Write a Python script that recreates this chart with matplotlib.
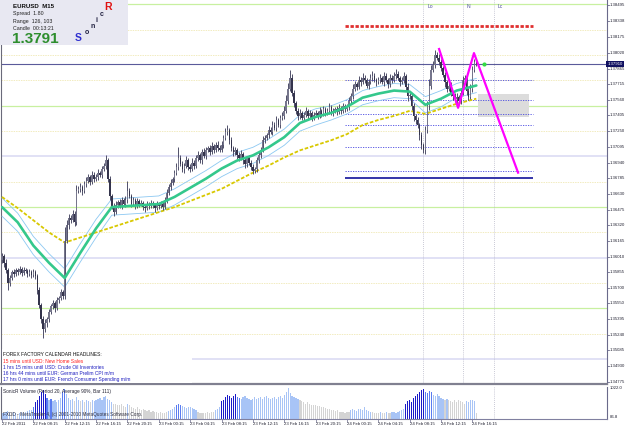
import matplotlib
matplotlib.use("Agg")
import matplotlib.pyplot as plt
from matplotlib.patches import Rectangle
from matplotlib.lines import Line2D

plt.rcParams['font.family'] = ['Liberation Sans', 'DejaVu Sans']

# ---------------- DATA ----------------
symbol = "EURUSD  M15"
first_open = 1.3598
closes = [
    1.3602, 1.3595, 1.3588, 1.3575, 1.3580, 1.3586, 1.3584, 1.3588, 1.3586, 1.3589, 1.3585, 1.3588, 1.3587, 1.3584, 1.3586, 1.3583,
    1.3586, 1.3582, 1.3568, 1.3553, 1.3540, 1.3530, 1.3536, 1.3540, 1.3546, 1.3552, 1.3555, 1.3550, 1.3558, 1.3560, 1.3566, 1.3562,
    1.3617, 1.3632, 1.3639, 1.3637, 1.3643, 1.3635, 1.3666, 1.3668, 1.3670, 1.3666, 1.3673, 1.3676, 1.3680, 1.3675, 1.3682, 1.3678,
    1.3680, 1.3684, 1.3682, 1.3688, 1.3691, 1.3696, 1.3678, 1.3661, 1.3651, 1.3645, 1.3652, 1.3655, 1.3651, 1.3657, 1.3653, 1.3657,
    1.3666, 1.3661, 1.3653, 1.3657, 1.3651, 1.3656, 1.3653, 1.3654, 1.3650, 1.3649, 1.3653, 1.3651, 1.3654, 1.3652, 1.3649, 1.3653,
    1.3651, 1.3653, 1.3650, 1.3657, 1.3664, 1.3670, 1.3674, 1.3678, 1.3684, 1.3690, 1.3698, 1.3693, 1.3688, 1.3691, 1.3696, 1.3690,
    1.3688, 1.3694, 1.3691, 1.3698, 1.3701, 1.3696, 1.3704, 1.3700, 1.3706, 1.3708, 1.3704, 1.3710, 1.3706, 1.3711, 1.3708, 1.3706,
    1.3711, 1.3718, 1.3724, 1.3726, 1.3716, 1.3708, 1.3704, 1.3706, 1.3701, 1.3698, 1.3702, 1.3696, 1.3693, 1.3698, 1.3694, 1.3690,
    1.3686, 1.3688, 1.3696, 1.3701, 1.3706, 1.3716, 1.3718, 1.3721, 1.3726, 1.3724, 1.3731, 1.3728, 1.3736, 1.3731, 1.3738, 1.3740,
    1.3745, 1.3755, 1.3767, 1.3777, 1.3763, 1.3753, 1.3745, 1.3740, 1.3743, 1.3738, 1.3741, 1.3745, 1.3740, 1.3743, 1.3738, 1.3741,
    1.3743, 1.3740, 1.3745, 1.3742, 1.3747, 1.3743, 1.3745, 1.3749, 1.3743, 1.3745, 1.3747, 1.3744, 1.3748, 1.3745, 1.3750, 1.3747,
    1.3749, 1.3755, 1.3760, 1.3767, 1.3771, 1.3769, 1.3775, 1.3773, 1.3777, 1.3775, 1.3770, 1.3773, 1.3777, 1.3779, 1.3775, 1.3773,
    1.3775, 1.3777, 1.3773, 1.3779, 1.3775, 1.3771, 1.3777, 1.3775, 1.3779, 1.3781, 1.3777, 1.3773, 1.3775, 1.3779, 1.3769, 1.3760,
    1.3760, 1.3750, 1.3740, 1.3736, 1.3731, 1.3721, 1.3711, 1.3706, 1.3726, 1.3750, 1.3770, 1.3785, 1.3790, 1.3800, 1.3797, 1.3793,
    1.3787, 1.3780, 1.3773, 1.3767, 1.3770, 1.3763, 1.3760, 1.3757, 1.3759, 1.3755, 1.3763, 1.3775, 1.3777, 1.3765, 1.3759, 1.3767,
    1.3785, 1.3793, 1.3791,
]
# wick lengths in pips above max(open, close) and below min(open, close)
upper_wick = [
    3, 2, 4, 2, 3, 2, 3, 2, 2, 3, 2, 3, 2, 2, 3, 2,
    3, 2, 2, 3, 2, 3, 4, 2, 3, 2, 3, 2, 3, 2, 3, 2,
    13, 5, 4, 3, 4, 3, 6, 3, 4, 2, 3, 4, 3, 2, 4, 3,
    3, 4, 2, 3, 3, 5, 2, 3, 2, 3, 4, 2, 3, 3, 2, 4,
    10, 3, 2, 3, 2, 3, 2, 3, 2, 2, 3, 2, 3, 2, 2, 3,
    2, 3, 2, 3, 4, 3, 4, 2, 3, 4, 11, 3, 2, 3, 4, 2,
    3, 4, 2, 3, 4, 2, 3, 4, 3, 2, 3, 4, 2, 3, 4, 3,
    4, 3, 4, 5, 2, 3, 2, 3, 2, 3, 4, 2, 3, 2, 3, 2,
    3, 2, 3, 4, 3, 4, 3, 2, 4, 3, 4, 3, 4, 2, 3, 4,
    5, 6, 5, 8, 4, 3, 2, 3, 4, 2, 3, 4, 2, 3, 2, 3,
    3, 2, 4, 2, 3, 2, 3, 4, 2, 3, 2, 3, 4, 2, 3, 2,
    3, 4, 3, 4, 3, 2, 4, 3, 5, 3, 2, 3, 4, 5, 3, 2,
    3, 4, 2, 4, 3, 2, 4, 3, 4, 5, 3, 2, 3, 4, 2, 3,
    3, 2, 3, 2, 3, 2, 3, 2, 4, 5, 6, 5, 4, 5, 3, 4,
    3, 2, 3, 2, 4, 3, 2, 3, 4, 2, 5, 4, 3, 2, 3, 4,
    4, 3, 2,
]
lower_wick = [
    3, 4, 3, 7, 3, 2, 3, 2, 3, 2, 3, 2, 2, 3, 2, 3,
    2, 3, 4, 3, 4, 9, 3, 4, 3, 2, 3, 4, 2, 3, 2, 3,
    3, 2, 4, 3, 2, 4, 3, 2, 3, 4, 2, 3, 2, 3, 2, 3,
    2, 3, 2, 3, 2, 3, 3, 4, 3, 4, 2, 3, 2, 3, 2, 3,
    3, 2, 3, 2, 3, 2, 3, 2, 3, 4, 2, 3, 2, 3, 4, 2,
    3, 2, 3, 2, 3, 2, 3, 2, 3, 2, 3, 2, 3, 4, 2, 3,
    3, 2, 3, 2, 3, 2, 3, 2, 3, 2, 3, 2, 3, 2, 3, 2,
    2, 3, 2, 3, 4, 3, 4, 3, 4, 3, 2, 3, 4, 3, 2, 3,
    3, 2, 3, 2, 3, 2, 3, 2, 3, 2, 3, 2, 3, 2, 3, 2,
    3, 2, 3, 2, 3, 4, 3, 4, 3, 2, 3, 2, 3, 2, 3, 2,
    2, 3, 2, 3, 2, 3, 2, 3, 2, 3, 2, 3, 2, 3, 2, 3,
    2, 3, 2, 3, 2, 3, 2, 3, 2, 3, 2, 3, 2, 3, 2, 3,
    2, 3, 2, 3, 2, 3, 2, 3, 2, 3, 2, 3, 2, 3, 4, 5,
    3, 4, 5, 4, 3, 5, 4, 3, 4, 3, 4, 3, 2, 3, 2, 3,
    3, 2, 4, 3, 2, 3, 4, 3, 5, 4, 3, 2, 3, 4, 3, 2,
    3, 2, 2,
]
volumes = [
    200, 230, 260, 280, 220, 200, 240, 210, 190, 220, 250, 230, 260, 280, 300, 320,
    420, 560, 650, 780, 900, 950, 820, 700, 620, 660, 600, 640, 580, 620, 700, 880,
    1000, 820, 700, 640, 680, 600, 720, 650, 600, 640, 580, 620, 600, 560, 640, 600,
    620, 680, 700, 650, 720, 760, 680, 640, 560, 500, 520, 480, 460, 500, 440, 420,
    520, 480, 420, 380, 360, 400, 340, 320, 360, 300, 280, 300, 260, 280, 250, 240,
    220, 250, 230, 210, 260, 280, 300, 360, 420, 460, 520, 480, 440, 400, 380, 420,
    400, 380, 350, 300, 260, 230, 210, 200, 220, 240, 230, 250, 260, 300, 350, 420,
    600, 640, 720, 800, 760, 700, 780, 820, 740, 700, 680, 720, 760, 700, 660, 640,
    680, 720, 660, 700, 740, 680, 720, 780, 700, 660, 700, 740, 680, 720, 760, 700,
    800, 900, 1022, 860, 780, 740, 700, 680, 640, 600, 560, 520, 560, 500, 480, 460,
    480, 450, 430, 420, 400, 380, 360, 340, 320, 300, 280, 300, 260, 250, 240, 230,
    240, 260, 300, 350, 320, 280, 360, 330, 300, 420, 300, 280, 260, 240, 230, 220,
    220, 240, 230, 210, 250, 230, 220, 260, 240, 230, 250, 280, 300, 360, 500, 600,
    640, 580, 700, 760, 820, 900, 960, 1000, 900, 860, 920, 880, 800, 780, 820, 760,
    700, 660, 620, 680, 640, 600, 560, 620, 580, 640, 600, 560, 520, 600, 580, 620,
    640, 600, 200,
]
# moving averages read at sample bars
ma_bars = [0, 8, 16, 24, 32, 40, 48, 56, 64, 72, 80, 88, 96, 104, 112, 120, 128, 136,
           144, 152, 160, 168, 176, 184, 192, 200, 208, 216, 224, 232, 240, 242]
dragon_mid = [1.3650, 1.3635, 1.3612, 1.3595, 1.3580, 1.3605, 1.3629, 1.3650, 1.3651, 1.3652,
              1.3653, 1.3660, 1.3669, 1.3678, 1.3688, 1.3696, 1.3701, 1.3709, 1.3719, 1.3733,
              1.3739, 1.3743, 1.3749, 1.3758, 1.3762, 1.3765, 1.3764, 1.3751, 1.3757, 1.3765,
              1.3769, 1.3770]
dragon_band = [9, 9, 9, 9, 9, 9, 9, 8, 8, 8, 8, 8, 8, 8, 8, 8, 8, 8, 8, 8, 8, 7, 7, 7, 7, 7,
               7, 8, 8, 7, 7, 7]  # pips
trend_ma = [1.3660, 1.3649, 1.3637, 1.3625, 1.3615, 1.3620, 1.3625, 1.3630, 1.3635, 1.3640,
            1.3645, 1.3650, 1.3656, 1.3662, 1.3668, 1.3676, 1.3684, 1.3691, 1.3699, 1.3706,
            1.3711, 1.3716, 1.3722, 1.3731, 1.3736, 1.3740, 1.3745, 1.3742, 1.3747, 1.3752,
            1.3756, 1.3757]

price_ticks = [1.38495, 1.38338, 1.38175, 1.38020, 1.37865, 1.37715, 1.37560, 1.37405,
               1.37250, 1.37095, 1.36940, 1.36785, 1.36630, 1.36475, 1.36320, 1.36165,
               1.36010, 1.35855, 1.35700, 1.35550, 1.35395, 1.35240, 1.35085, 1.34930,
               1.34775]
time_tick_bars = [0, 16, 32, 48, 64, 80, 96, 112, 128, 144, 160, 176, 192, 208, 224, 240]
time_labels = ["22 Feb 2011", "22 Feb 08:15", "22 Feb 12:15", "22 Feb 16:15", "22 Feb 20:15",
               "23 Feb 00:15", "23 Feb 04:15", "23 Feb 08:15", "23 Feb 12:15", "23 Feb 16:15",
               "23 Feb 20:15", "24 Feb 00:15", "24 Feb 04:15", "24 Feb 08:15", "24 Feb 12:15",
               "24 Feb 16:15"]
bid = 1.3791
round_levels = [1.3850, 1.3825, 1.3800, 1.3775, 1.3750, 1.3725, 1.3700, 1.3675, 1.3650,
                1.3625, 1.3600, 1.3575, 1.3550, 1.3525, 1.3500]
level_start, level_end = 175, 271
red_level = 1.3829
blue_levels = [1.3775, 1.3756, 1.3742, 1.3731, 1.3709, 1.3686]
navy_level = 1.3679
zone_bars = (243, 269)
zone_prices = (1.3739, 1.3762)
pattern_bars = [223, 232.7, 240.8, 263.3]
pattern_prices = [1.3806, 1.3748, 1.3802, 1.3684]
session_bars = [215, 235, 251]
session_names = ["Lo", "N", "Lc"]
news = ["15 mins until USD: New Home Sales",
        "1 hrs 15 mins until USD: Crude Oil Inventories",
        "16 hrs 44 mins until EUR: German Prelim CPI m/m",
        "17 hrs 0 mins until EUR: French Consumer Spending m/m"]
vol_max, vol_min = 1022.0, 86.8

# ---------------- LAYOUT ----------------
W, H = 625, 429
fig = plt.figure(figsize=(W / 100, H / 100), dpi=100)
fig.patch.set_facecolor('white')

def fx(px):
    return px / W

def fy(py):
    return 1 - py / H

PX_PER_BAR = 1.96
ML, MR, MT, MB = 1, 607, 0, 384
ax = fig.add_axes([fx(ML), fy(MB), (MR - ML) / W, (MB - MT) / H])
VT, VB = 387, 419
vax = fig.add_axes([fx(ML), fy(VB), (MR - ML) / W, (VB - VT) / H])

x0 = (ML - 2) / PX_PER_BAR
x1 = (MR - 2) / PX_PER_BAR
P_PER_PX = 0.0000987
ax.set_xlim(x0, x1)
ax.set_ylim(1.38544 - MB * P_PER_PX, 1.38544)
vs = (vol_max - vol_min) / 29.0
vax.set_xlim(x0, x1)
vax.set_ylim(vol_min - 2 * vs, vol_max + 1 * vs)

for a in (ax, vax):
    a.set_xticks([])
    a.set_yticks([])
    a.set_facecolor('white')
    for s in a.spines.values():
        s.set_visible(False)
    a.spines['left'].set_visible(True)
    a.spines['left'].set_color('#6a6a7a')
    a.spines['left'].set_linewidth(0.8)
    a.spines['right'].set_visible(True)
    a.spines['right'].set_color('#6a6a8a')
    a.spines['right'].set_linewidth(0.8)
ax.spines['bottom'].set_visible(True)
ax.spines['bottom'].set_color('#808090')
ax.spines['bottom'].set_linewidth(1.6)
vax.spines['bottom'].set_visible(True)
vax.spines['bottom'].set_color('#8080a0')
vax.spines['bottom'].set_linewidth(0.8)

# round-number levels
for lv in round_levels:
    frac = round((lv * 10000) % 100)
    if frac == 50:
        ax.axhline(lv, color='#c8f0a0', lw=0.9, zorder=1)
    elif frac == 0:
        ax.axhline(lv, color='#d8d8f2', lw=1.1, zorder=1)
    else:
        ax.axhline(lv, color='#f2ecc0', lw=0.7, ls=(0, (1.5, 1)), zorder=1)

# session verticals
for b, nm in zip(session_bars, session_names):
    ax.axvline(b, color='#b8b8c8', lw=0.6, ls=(0, (1, 1.5)), zorder=1)
    ax.text(b + 2, 1.38544 - 6 * P_PER_PX, nm, fontsize=3.6, color='#5050a0',
            ha='left', va='center', zorder=5)
vax.axvline(session_bars[-1], color='#b8b8c8', lw=0.6, ls=(0, (1, 1.5)))

# zone
ax.add_patch(Rectangle((zone_bars[0], zone_prices[0]), zone_bars[1] - zone_bars[0],
                       zone_prices[1] - zone_prices[0], facecolor='#dcdcdc',
                       edgecolor='none', zorder=1.2))

# levels on the right
ax.hlines(red_level, level_start, level_end, colors='#e03030', lw=2.0,
          linestyles=(0, (1.2, 0.6)), zorder=2)
for lv in blue_levels:
    ax.hlines(lv, level_start, level_end, colors='#4848e0', lw=0.6,
              linestyles=(0, (1.5, 1.5)), zorder=2)
ax.hlines(navy_level, level_start, level_end, colors='#3434a8', lw=1.4, zorder=2)
ax.axhline(bid, color='#5a5a9a', lw=0.8, zorder=2)

# moving averages
up = [m + b / 10000 for m, b in zip(dragon_mid, dragon_band)]
dn = [m - b / 10000 for m, b in zip(dragon_mid, dragon_band)]
ax.plot(ma_bars, up, color='#8cc8f2', lw=0.6, zorder=3)
ax.plot(ma_bars, dn, color='#8cc8f2', lw=0.6, zorder=3)
ax.plot(ma_bars, trend_ma, color='#d8c800', lw=1.3, ls=(0, (2, 1)), zorder=3)

# candles
opens = [first_open] + closes[:-1]
n = len(closes)
for i in range(n):
    o, c = opens[i], closes[i]
    hi = max(o, c) + upper_wick[i] / 10000
    lo = min(o, c) - lower_wick[i] / 10000
    col = '#76768c' if c >= o else '#34344c'
    ax.vlines(i, lo, hi, colors='#50506a', lw=0.7, zorder=4)
    body = max(abs(c - o), 0.00005)
    ax.add_patch(Rectangle((i - 0.38, min(o, c)), 0.76, body, facecolor=col,
                           edgecolor='none', zorder=4.2))

ax.plot(ma_bars, dragon_mid, color='#34c88c', lw=1.9, zorder=5, solid_capstyle='round')

# pattern & current bar dot
ax.plot(pattern_bars, pattern_prices, color='#ff00ff', lw=1.6, zorder=6)
ax.scatter([n + 3], [bid], s=9, color='#33dd44', zorder=7, linewidths=0)

# price axis labels
ytr = ax.get_yaxis_transform()
for p in price_ticks:
    ax.add_line(Line2D([1.0, 1.004], [p, p], transform=ytr, color='#6a6a8a', lw=0.6,
                       clip_on=False))
    ax.text(1.005, p, f"{p:.5f}", transform=ytr, fontsize=3.1, color='#202030',
            ha='left', va='center', clip_on=False)
ax.text(1.0005, bid, f"{bid:.5f}", transform=ytr, fontsize=3.1, color='white',
        ha='left', va='center', clip_on=False, zorder=10,
        bbox=dict(boxstyle='square,pad=0.25', facecolor='#101060', edgecolor='none'))

# volume bars (colour by ratio to 20-bar average)
vcols = []
for i, v in enumerate(volumes):
    win = volumes[max(0, i - 20):i] or [v]
    avg = sum(win) / len(win)
    r = v / avg
    if r < 0.85:
        vcols.append('#d4d4d4')
    elif r < 1.45:
        vcols.append('#a8c4f6')
    elif r < 1.8:
        vcols.append('#5a7cf0')
    else:
        vcols.append('#1a1ac8')
vax.bar(range(len(volumes)), volumes, width=0.62, color=vcols, zorder=2)
vtr = vax.get_yaxis_transform()
vax.text(1.005, vol_max, f"{vol_max:.1f}", transform=vtr, fontsize=3.1, color='#202030',
         ha='left', va='center', clip_on=False)
vax.text(1.005, vol_min, f"{vol_min:.1f}", transform=vtr, fontsize=3.1, color='#202030',
         ha='left', va='center', clip_on=False)
vax.text(2 / 606, 0.86, "SonicR Volume (Period 20, Average 90%, Bar 111)",
         transform=vax.transAxes, fontsize=3.4, color='#202030', ha='left', va='center')
vax.text(2 / 606, 0.13, "FXDD - MetaTrader 4, (c) 2001-2010 MetaQuotes Software Corp.",
         transform=vax.transAxes, fontsize=3.4, color='#303040', ha='left', va='center',
         zorder=5)

# time labels
xtr = vax.get_xaxis_transform()
for b, lab in zip(time_tick_bars, time_labels):
    vax.add_line(Line2D([b, b], [0, -0.08], transform=xtr, color='#6a6a8a', lw=0.5,
                        clip_on=False))
    vax.text(b, -0.1, lab, transform=xtr, fontsize=3.1, color='#202030', ha='left',
             va='top', clip_on=False)

# info box
fig.patches.append(Rectangle((0, fy(45)), fx(128), 45 / H, transform=fig.transFigure,
                             facecolor='#e8e8f2', edgecolor='none', zorder=20))
fig.text(fx(13), fy(6), symbol, fontsize=4.4, fontweight='bold', color='#101010',
         va='center', ha='left', zorder=21)
fig.text(fx(13), fy(14), "Spread  1.80", fontsize=3.8, color='#202020', va='center', zorder=21)
fig.text(fx(13), fy(21), "Range  126, 103", fontsize=3.8, color='#202020', va='center', zorder=21)
fig.text(fx(13), fy(28), "Candle  00:13:21", fontsize=3.8, color='#202020', va='center', zorder=21)
fig.text(fx(12), fy(39), f"{bid:.4f}", fontsize=11, fontweight='bold', color='#2e8e2e',
         va='center', ha='left', zorder=21)
for ch, (px, py, col, fs) in zip("SonicR", [(78, 38, '#3030d0', 7.5), (87, 32, '#202040', 5),
                                           (93, 26, '#202040', 5), (97, 20, '#202040', 5),
                                           (102, 14, '#202040', 5), (108, 7, '#e01010', 7.5)]):
    fig.text(fx(px), fy(py), ch, fontsize=fs, fontweight='bold', color=col,
             ha='center', va='center', zorder=21)

# news block (white panel hides grid lines behind it)
fig.patches.append(Rectangle((fx(2), fy(383)), fx(190), 34 / H, transform=fig.transFigure,
                             facecolor='white', edgecolor='none', zorder=19))
fig.text(fx(3), fy(354), "FOREX FACTORY CALENDAR HEADLINES:", fontsize=3.5, color='#101010',
         va='center', zorder=21)
for k, line in enumerate(news):
    fig.text(fx(3), fy(361.5 + 6 * k), line, fontsize=3.5,
             color='#ff2020' if k == 0 else '#2020c0', va='center', zorder=21)

fig.savefig("out.png", dpi=100)
